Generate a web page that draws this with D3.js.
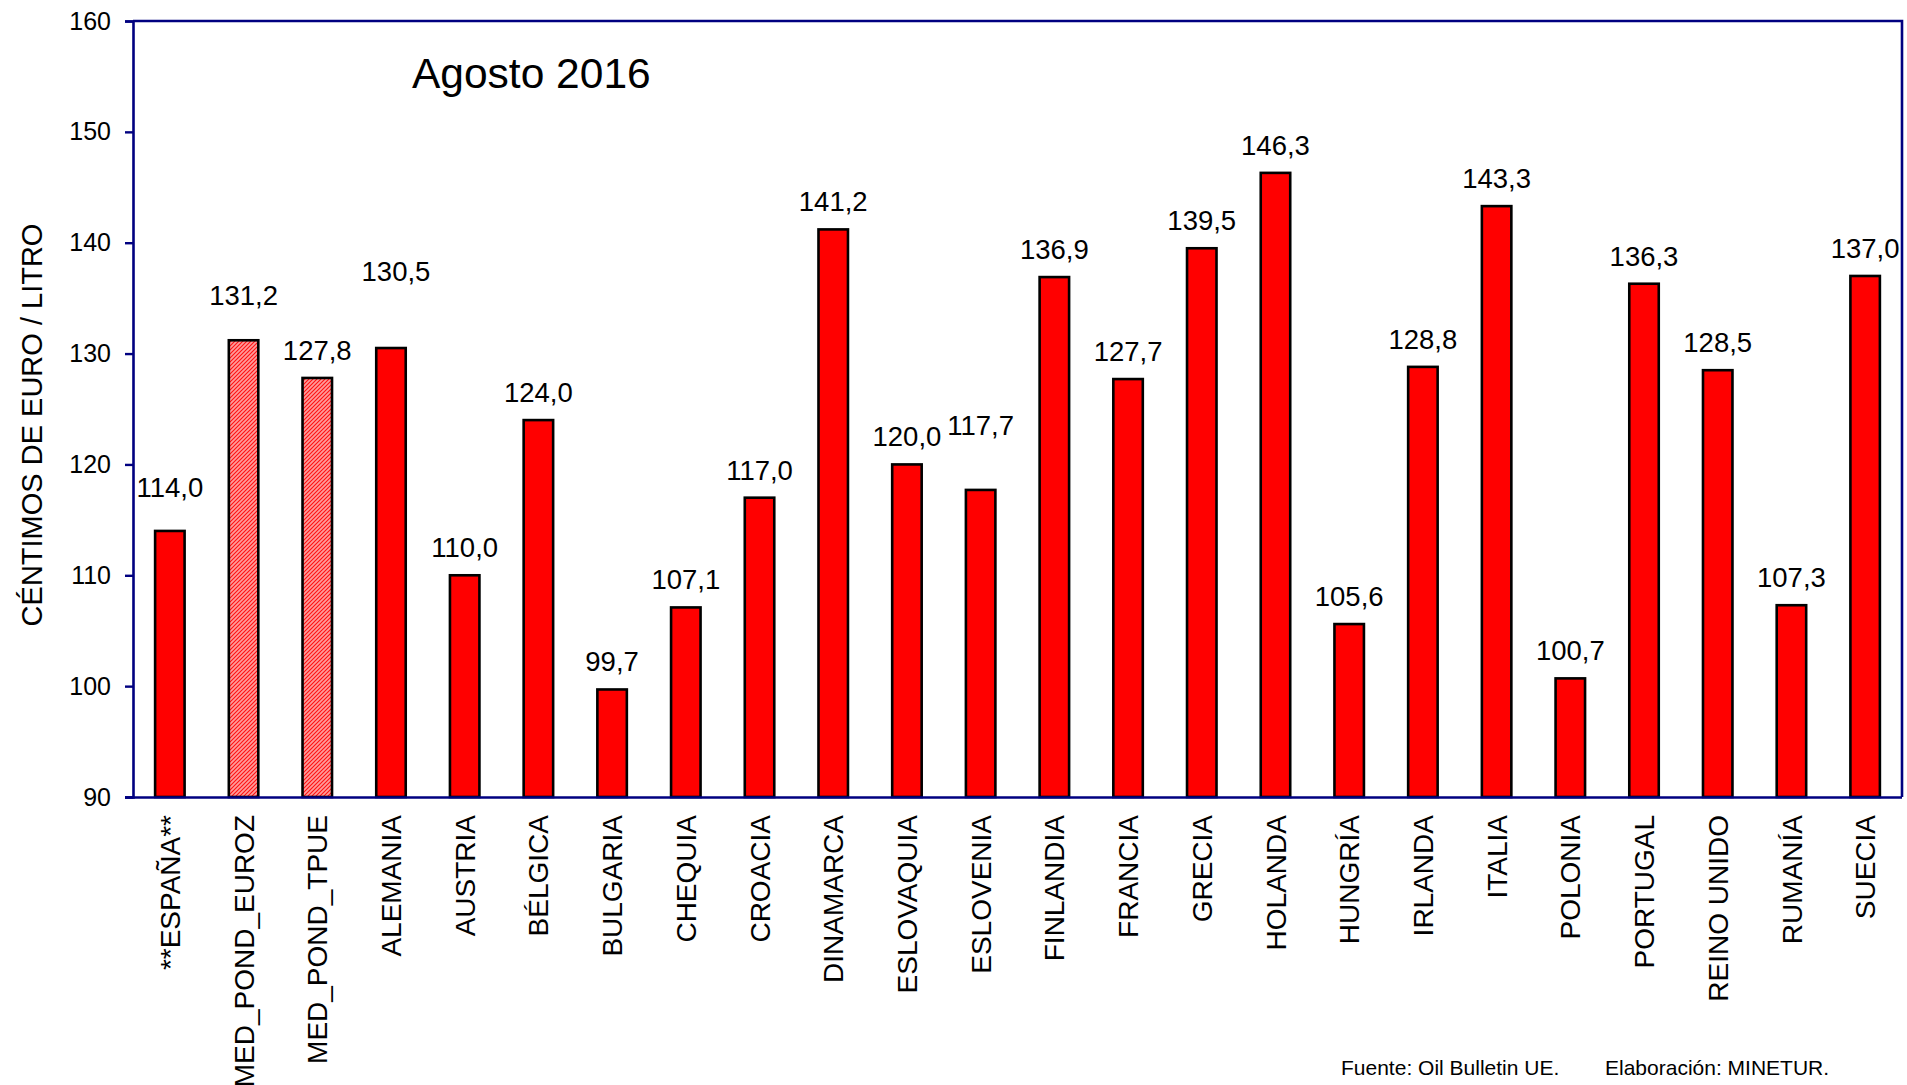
<!DOCTYPE html>
<html>
<head>
<meta charset="utf-8">
<script src="https://cdn.jsdelivr.net/npm/d3@7"></script>
<style>
  html, body { margin: 0; padding: 0; background: #ffffff; }
  svg { display: block; font-family: Arial, "Liberation Sans", sans-serif; }
</style>
</head>
<body>
<svg id="chart" width="1907" height="1085"></svg>
<script>
// ---- data ----
const categories = ["**ESPAÑA**", "MED_POND_EUROZ", "MED_POND_TPUE", "ALEMANIA", "AUSTRIA", "BÉLGICA",
  "BULGARIA", "CHEQUIA", "CROACIA", "DINAMARCA", "ESLOVAQUIA", "ESLOVENIA", "FINLANDIA", "FRANCIA",
  "GRECIA", "HOLANDA", "HUNGRÍA", "IRLANDA", "ITALIA", "POLONIA", "PORTUGAL", "REINO UNIDO", "RUMANÍA", "SUECIA"];
const values = [114.0, 131.2, 127.8, 130.5, 110.0, 124.0, 99.7, 107.1, 117.0, 141.2, 120.0, 117.7, 136.9, 127.7,
  139.5, 146.3, 105.6, 128.8, 143.3, 100.7, 136.3, 128.5, 107.3, 137.0];
const averageCategories = ["MED_POND_EUROZ", "MED_POND_TPUE"];
const yTicks = [90, 100, 110, 120, 130, 140, 150, 160];
const chartTitle = "Agosto 2016";
const yTitle = "CÉNTIMOS DE EURO / LITRO";
const sourceText = "Fuente: Oil Bulletin UE.";
const authorText = "Elaboración: MINETUR.";

// ---- layout ----
const plot = { left: 133, right: 1902, top: 21, bottom: 797 };
const labelLift = { "**ESPAÑA**": 16, "MED_POND_EUROZ": 17, "ALEMANIA": 49, "ESLOVENIA": 37 };
const labelShift = { "ALEMANIA": 5 };
const navy = "#000080";

const svg = d3.select("#chart");

const defs = svg.append("defs");
const pat = defs.append("pattern")
  .attr("id", "hatch").attr("patternUnits", "userSpaceOnUse")
  .attr("width", 4).attr("height", 4);
pat.append("rect").attr("width", 4).attr("height", 4).attr("fill", "#ff9c9c");
pat.append("path").attr("d", "M-1,1 l2,-2 M0,4 l4,-4 M3,5 l2,-2")
  .attr("stroke", "#ff1010").attr("stroke-width", 1.1);

const x = d3.scaleBand().domain(categories)
  .range([plot.left, plot.right]).paddingInner(0.6).paddingOuter(0.3);
const y = d3.scaleLinear().domain([90, 160]).range([plot.bottom, plot.top]);

const data = categories.map((c, i) => ({ cat: c, v: values[i] }));

// bars
svg.append("g").selectAll("rect").data(data).join("rect")
  .attr("x", d => x(d.cat))
  .attr("y", d => y(d.v))
  .attr("width", x.bandwidth())
  .attr("height", d => y(90) - y(d.v))
  .attr("fill", d => averageCategories.includes(d.cat) ? "url(#hatch)" : "#ff0000")
  .attr("stroke", "#000000")
  .attr("stroke-width", 2.6);

// plot frame (top & right)
svg.append("path")
  .attr("d", `M${plot.left},${plot.top} H${plot.right} V${plot.bottom}`)
  .attr("fill", "none").attr("stroke", navy).attr("stroke-width", 2.6);

// y axis
const yAxis = svg.append("g")
  .attr("transform", `translate(${plot.left},0)`)
  .call(d3.axisLeft(y).tickValues(yTicks).tickSize(8).tickPadding(14).tickFormat(d3.format("d")));
yAxis.select(".domain").attr("stroke", navy).attr("stroke-width", 2.6);
yAxis.selectAll(".tick line").attr("stroke", navy).attr("stroke-width", 2.4);
yAxis.selectAll(".tick text")
  .attr("font-size", 25).attr("fill", "#000").attr("font-family", "Arial, 'Liberation Sans', sans-serif");

// x axis
const xAxis = svg.append("g")
  .attr("transform", `translate(0,${plot.bottom})`)
  .call(d3.axisBottom(x).tickSize(0).tickPadding(0));
xAxis.select(".domain").attr("stroke", navy).attr("stroke-width", 2.6)
  .attr("d", `M${plot.left - 8},0.5H${plot.right}`);
xAxis.selectAll(".tick text")
  .attr("font-size", 28).attr("fill", "#000").attr("font-family", "Arial, 'Liberation Sans', sans-serif")
  .attr("text-anchor", "end")
  .attr("transform", "rotate(-90)")
  .attr("x", -18).attr("y", 0).attr("dy", "0.36em");

// value labels
const fmt = v => d3.format(".1f")(v).replace(".", ",");
svg.append("g").selectAll("text").data(data).join("text")
  .attr("x", d => x(d.cat) + x.bandwidth() / 2 + (labelShift[d.cat] || 0))
  .attr("y", d => y(d.v) - 18 - (labelLift[d.cat] || 0))
  .attr("text-anchor", "middle")
  .attr("font-size", 27.5)
  .attr("fill", "#000")
  .text(d => fmt(d.v));

// title
svg.append("text").attr("x", 412).attr("y", 88)
  .attr("font-size", 42.5).attr("fill", "#000").text(chartTitle);

// y title
svg.append("text")
  .attr("transform", "translate(42,425) rotate(-90)")
  .attr("text-anchor", "middle")
  .attr("font-size", 29).attr("fill", "#000").text(yTitle);

// footer
svg.append("text").attr("x", 1341).attr("y", 1075)
  .attr("font-size", 21).attr("fill", "#000").text(sourceText);
svg.append("text").attr("x", 1605).attr("y", 1075)
  .attr("font-size", 21).attr("fill", "#000").text(authorText);
</script>
</body>
</html>
